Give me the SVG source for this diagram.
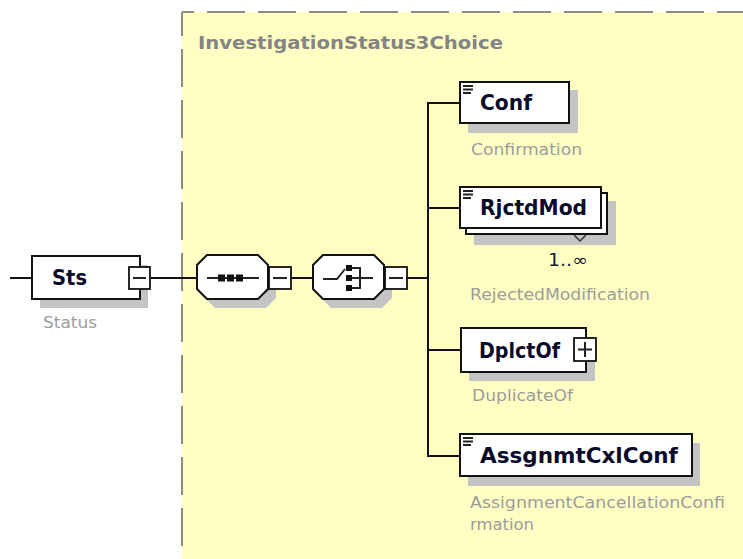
<svg xmlns="http://www.w3.org/2000/svg" width="743" height="559" viewBox="0 0 743 559">
<style>
.box{fill:#fff;stroke:#111;stroke-width:2}
.sh{fill:#c4c4c4}
.btn{fill:#fff;stroke:#111;stroke-width:1.8}
.ln{stroke:#111;stroke-width:2;fill:none}
.nm{font-family:"DejaVu Sans",Verdana,sans-serif;font-weight:bold;font-size:21px;fill:#0a0a2a}
.lb{font-family:"DejaVu Sans",Verdana,sans-serif;font-size:16px;fill:#9c9c9c}
.ttl{font-family:"DejaVu Sans",Verdana,sans-serif;font-weight:bold;font-size:18px;fill:#848484}
.dash{stroke:#8c8c8c;stroke-width:2;fill:none;stroke-dasharray:38 13}
.ic{stroke:#222;stroke-width:2}
</style>
<rect x="0" y="0" width="743" height="559" fill="#fff"/>
<g id="group-InvestigationStatus3Choice">
<rect x="182" y="12" width="561" height="547" fill="#ffffc4"/>
<line class="dash" x1="182" y1="12" x2="743" y2="12" stroke-dashoffset="26"/>
<line class="dash" x1="182" y1="12" x2="182" y2="559" stroke-dashoffset="14"/>
<text class="ttl" x="198" y="49" textLength="305" lengthAdjust="spacingAndGlyphs">InvestigationStatus3Choice</text>
</g>
<g id="connectors">
<line class="ln" x1="10" y1="278" x2="32" y2="278"/>
<line class="ln" x1="150" y1="278" x2="197" y2="278"/>
<line class="ln" x1="291" y1="278" x2="313" y2="278"/>
<line class="ln" x1="407" y1="278" x2="428" y2="278"/>
<line class="ln" x1="428" y1="102" x2="428" y2="457"/>
<line class="ln" x1="428" y1="103" x2="460" y2="103"/>
<line class="ln" x1="428" y1="208" x2="460" y2="208"/>
<line class="ln" x1="428" y1="350" x2="461" y2="350"/>
<line class="ln" x1="428" y1="456" x2="460" y2="456"/>
</g>
<g id="node-Sts">
<rect class="sh" x="40" y="265" width="108" height="43"/>
<rect class="box" x="32" y="256" width="108" height="43"/>
<text class="nm" x="52" y="285" textLength="35" lengthAdjust="spacingAndGlyphs">Sts</text>
<rect class="btn" x="129" y="267" width="21" height="22"/>
<line class="ic" x1="133" y1="278" x2="146" y2="278"/>
<text class="lb" x="43" y="328" textLength="54" lengthAdjust="spacingAndGlyphs">Status</text>
</g>
<g id="node-sequence">
<path class="sh" d="M215,264 H266 L276,274 V298 L266,308 H215 L205,298 V274 Z"/>
<path class="box" d="M207,255 H258 L268,265 V289 L258,299 H207 L197,289 V265 Z"/>
<line class="ic" x1="207" y1="278" x2="259" y2="278"/>
<rect x="218" y="274.5" width="7" height="7" fill="#111"/>
<rect x="227" y="274.5" width="7" height="7" fill="#111"/>
<rect x="236" y="274.5" width="7" height="7" fill="#111"/>
<rect class="btn" x="269" y="267" width="22" height="22"/>
<line class="ic" x1="273" y1="278" x2="287" y2="278"/>
</g>
<g id="node-choice">
<path class="sh" d="M331,264 H382 L392,274 V298 L382,308 H331 L321,298 V274 Z"/>
<path class="box" d="M323,255 H374 L384,265 V289 L374,299 H323 L313,289 V265 Z"/>
<polyline class="ic" fill="none" points="323,279 337,279 345,269"/>
<rect x="346" y="265" width="6" height="6" fill="#111"/>
<rect x="346" y="275" width="6" height="6" fill="#111"/>
<rect x="346" y="285" width="6" height="6" fill="#111"/>
<polyline class="ic" fill="none" points="352,268 360,268 360,288 352,288"/>
<line class="ic" x1="352" y1="278" x2="373" y2="278"/>
<rect class="btn" x="385" y="267" width="22" height="22"/>
<line class="ic" x1="389" y1="278" x2="403" y2="278"/>
</g>
<g id="node-Conf">
<rect class="sh" x="468" y="90" width="110" height="43"/>
<rect class="box" x="460" y="82" width="109" height="41"/>
<g class="ic"><line x1="463" y1="86" x2="473" y2="86"/><line x1="463" y1="89.5" x2="473" y2="89.5"/><line x1="463" y1="93" x2="471" y2="93"/></g>
<text class="nm" x="480" y="110" textLength="52" lengthAdjust="spacingAndGlyphs">Conf</text>
<text class="lb" x="471" y="155" textLength="111" lengthAdjust="spacingAndGlyphs">Confirmation</text>
</g>
<g id="node-RjctdMod">
<rect class="sh" x="474" y="201" width="142" height="44"/>
<rect class="box" x="466" y="193" width="141" height="41"/>
<rect class="box" x="460" y="187" width="141" height="41"/>
<polyline fill="none" stroke="#333" stroke-width="1.5" points="574,235 580,241 586,235"/>
<g class="ic"><line x1="463" y1="191" x2="473" y2="191"/><line x1="463" y1="194.5" x2="473" y2="194.5"/><line x1="463" y1="198" x2="471" y2="198"/></g>
<text class="nm" x="480" y="215" textLength="107" lengthAdjust="spacingAndGlyphs">RjctdMod</text>
<text x="548" y="266" font-family="DejaVu Sans,Verdana,sans-serif" font-size="17" fill="#1a1a3a" textLength="40" lengthAdjust="spacingAndGlyphs">1..∞</text>
<text class="lb" x="470" y="300" textLength="180" lengthAdjust="spacingAndGlyphs">RejectedModification</text>
</g>
<g id="node-DplctOf">
<rect class="sh" x="469" y="337" width="126" height="44"/>
<rect class="box" x="461" y="328" width="125" height="44"/>
<text class="nm" x="479" y="358" textLength="81" lengthAdjust="spacingAndGlyphs">DplctOf</text>
<rect class="btn" x="574" y="338" width="22" height="23"/>
<line class="ic" x1="578" y1="349.5" x2="592" y2="349.5"/>
<line class="ic" x1="585" y1="342" x2="585" y2="357"/>
<text class="lb" x="472" y="401" textLength="101" lengthAdjust="spacingAndGlyphs">DuplicateOf</text>
</g>
<g id="node-AssgnmtCxlConf">
<rect class="sh" x="468" y="443" width="232" height="43"/>
<rect class="box" x="460" y="434" width="232" height="42"/>
<g class="ic"><line x1="463" y1="438" x2="473" y2="438"/><line x1="463" y1="441.5" x2="473" y2="441.5"/><line x1="463" y1="445" x2="471" y2="445"/></g>
<text class="nm" x="480" y="463" textLength="198" lengthAdjust="spacingAndGlyphs">AssgnmtCxlConf</text>
<text class="lb" x="470" y="508" textLength="255" lengthAdjust="spacingAndGlyphs">AssignmentCancellationConfi</text>
<text class="lb" x="470" y="530" textLength="64" lengthAdjust="spacingAndGlyphs">rmation</text>
</g>
</svg>
